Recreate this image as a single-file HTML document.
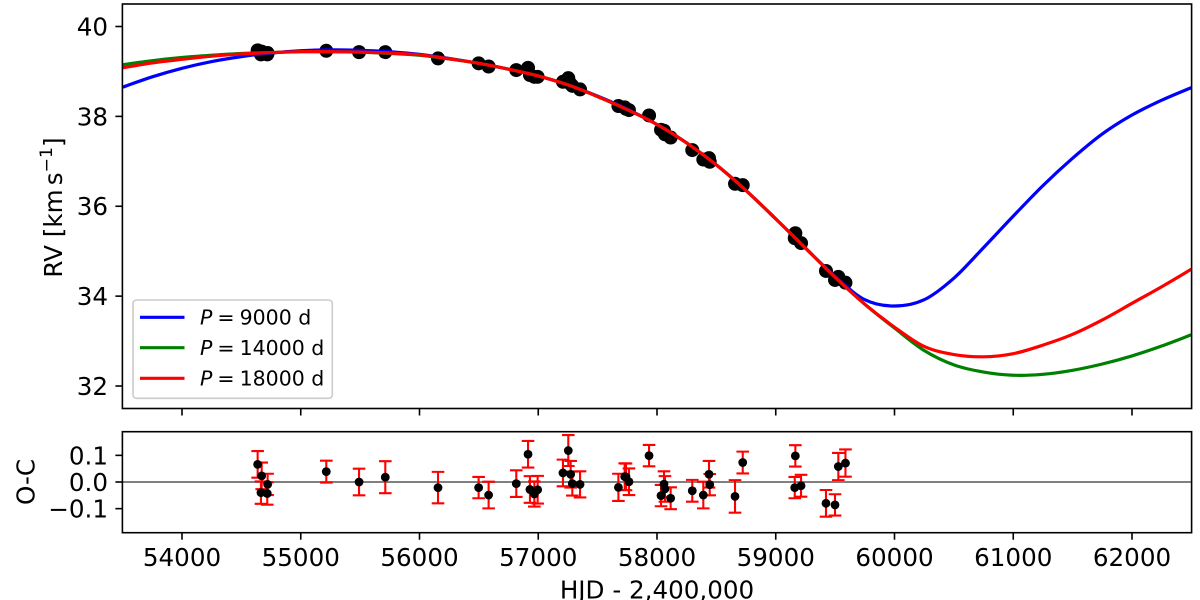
<!DOCTYPE html>
<html>
<head>
<meta charset="utf-8">
<title>RV curve with residuals</title>
<style>
html,body{margin:0;padding:0;background:#fff;}
svg{display:block;}
text{font-family:"DejaVu Sans",sans-serif;fill:#000;}
</style>
</head>
<body>
<svg id="chart" width="1200" height="600" viewBox="0 0 1200 600" xmlns="http://www.w3.org/2000/svg">
  <defs>
    <clipPath id="top-clip"><rect x="122.4" y="4" width="1069.2" height="404.5"/></clipPath>
    <clipPath id="bot-clip"><rect x="122.4" y="431.7" width="1069.2" height="101"/></clipPath>
  </defs>
  <rect x="0" y="0" width="1200" height="600" fill="#fff"/>
  <g id="top-data" clip-path="url(#top-clip)"></g>
  <g id="bot-data" clip-path="url(#bot-clip)"></g>
  <rect x="122.4" y="4" width="1069.2" height="404.5" fill="none" stroke="#000" stroke-width="1.6"/>
  <rect x="122.4" y="431.7" width="1069.2" height="101" fill="none" stroke="#000" stroke-width="1.6"/>
  <g id="axes"></g>
  <text transform="translate(62,207.5) rotate(-90)" text-anchor="middle" font-size="24.6">RV [km<tspan dx="-3.6"> s</tspan><tspan font-size="17.2" dy="-10">−1</tspan><tspan dy="10">]</tspan></text>
  <text transform="translate(34.5,482) rotate(-90)" text-anchor="middle" font-size="24.6">O-C</text>
  <text x="657" y="598.3" text-anchor="middle" font-size="24.6">HJD - 2,400,000</text>
  <g>
    <rect x="133" y="300" width="199.3" height="98.3" rx="3.5" fill="#fff" fill-opacity="0.8" stroke="#ccc" stroke-width="1.6"/>
    <line x1="140" x2="184.5" y1="317.3" y2="317.3" stroke="#0000ff" stroke-width="3.2"/>
    <line x1="140" x2="184.5" y1="347.7" y2="347.7" stroke="#008000" stroke-width="3.2"/>
    <line x1="140" x2="184.5" y1="378.3" y2="378.3" stroke="#ff0000" stroke-width="3.2"/>
    <text x="200" y="324.5" font-size="20.5"><tspan font-style="italic">P</tspan><tspan dx="5">=</tspan><tspan dx="5">9000 d</tspan></text>
    <text x="200" y="355" font-size="20.5"><tspan font-style="italic">P</tspan><tspan dx="5">=</tspan><tspan dx="5">14000 d</tspan></text>
    <text x="200" y="385.5" font-size="20.5"><tspan font-style="italic">P</tspan><tspan dx="5">=</tspan><tspan dx="5">18000 d</tspan></text>
  </g>
</svg>
<script>
// Model curve epochs (HJD - 2,400,000)
const modelEpochs = [53500,53750,54000,54250,54500,54750,55000,55250,55500,55750,56000,56250,56500,56750,57000,57250,57500,57750,58000,58250,58500,58750,59000,59250,59500,59750,60000,60250,60500,60750,61000,61250,61500,61750,62000,62250,62500];
const rvP9000 = [38.65,38.88,39.07,39.22,39.33,39.41,39.46,39.48,39.47,39.44,39.38,39.29,39.18,39.05,38.90,38.70,38.45,38.16,37.82,37.41,36.92,36.35,35.72,35.07,34.44,33.92,33.78,33.92,34.40,35.08,35.78,36.46,37.07,37.61,38.03,38.36,38.64];
const rvP14000 = [39.15,39.24,39.31,39.36,39.40,39.42,39.44,39.44,39.43,39.40,39.36,39.28,39.18,39.05,38.90,38.70,38.44,38.15,37.82,37.41,36.92,36.35,35.72,35.07,34.42,33.82,33.29,32.79,32.47,32.31,32.24,32.26,32.35,32.49,32.67,32.89,33.14];
const rvP18000 = [39.08,39.19,39.27,39.34,39.39,39.42,39.44,39.44,39.43,39.41,39.37,39.28,39.18,39.05,38.90,38.70,38.44,38.15,37.82,37.41,36.92,36.35,35.72,35.07,34.42,33.82,33.31,32.88,32.70,32.65,32.72,32.91,33.15,33.47,33.84,34.21,34.60];

// Observations
const obsEpochs = [54637,54671,54721,54665,54718,55215,55491,55712,56156,56498,56582,56815,56914,56930,56967,56995,57253,57208,57273,57287,57352,57675,57728,57739,57764,57933,58059,58034,58067,58115,58297,58390,58438,58444,58657,58722,59165,59160,59213,59423,59499,59527,59587];
const obsRv = [39.47,39.44,39.41,39.38,39.38,39.46,39.43,39.43,39.29,39.18,39.11,39.03,39.08,38.92,38.88,38.88,38.85,38.77,38.72,38.68,38.60,38.23,38.20,38.17,38.14,38.02,37.68,37.70,37.60,37.53,37.25,37.04,37.07,36.99,36.50,36.47,35.40,35.29,35.18,34.56,34.36,34.43,34.30];
const obsResidual = [0.066,0.023,-0.009,-0.040,-0.043,0.039,0,0.018,-0.021,-0.021,-0.049,-0.006,0.104,-0.028,-0.045,-0.029,0.118,0.034,0.029,-0.006,-0.009,-0.020,0.020,0.019,0.001,0.099,-0.008,-0.051,-0.026,-0.061,-0.033,-0.049,0.029,-0.010,-0.054,0.073,0.098,-0.021,-0.014,-0.080,-0.086,0.058,0.071];
const obsError = [0.050,0.050,0.040,0.042,0.042,0.041,0.050,0.060,0.059,0.040,0.050,0.050,0.050,0.050,0.047,0.052,0.058,0.050,0.050,0.045,0.049,0.051,0.050,0.050,0.050,0.040,0.048,0.040,0.048,0.041,0.041,0.050,0.050,0.040,0.061,0.041,0.040,0.040,0.041,0.050,0.040,0.051,0.051];

// Tick labels
const xTicks = [54000,55000,56000,57000,58000,59000,60000,61000,62000];
const rvTicks = [32,34,36,38,40];
const residualTicks = [-0.1,0,0.1];
const residualTickLabels = ['−0.1','0.0','0.1'];

const SVGNS = 'http://www.w3.org/2000/svg';
const xScale = t => 182 + (t - 54000) * 0.11875;
const rvScale = v => 26.5 + (40 - v) * 44.94;
const resScale = r => 482 - r * 266.5;

function mk(tag, attrs, parent) {
  const node = document.createElementNS(SVGNS, tag);
  for (const k in attrs) node.setAttribute(k, attrs[k]);
  parent.appendChild(node);
  return node;
}

function smoothPath(xs, ys) {
  const px = xs.map(xScale), py = ys.map(rvScale);
  let d = 'M' + px[0] + ' ' + py[0];
  for (let i = 0; i < px.length - 1; i++) {
    const a = Math.max(i - 1, 0), b = Math.min(i + 2, px.length - 1);
    const c1x = px[i] + (px[i + 1] - px[a]) / 6, c1y = py[i] + (py[i + 1] - py[a]) / 6;
    const c2x = px[i + 1] - (px[b] - px[i]) / 6, c2y = py[i + 1] - (py[b] - py[i]) / 6;
    d += 'C' + c1x + ' ' + c1y + ' ' + c2x + ' ' + c2y + ' ' + px[i + 1] + ' ' + py[i + 1];
  }
  return d;
}

const topData = document.getElementById('top-data');
const botData = document.getElementById('bot-data');
const axes = document.getElementById('axes');

// RV observations
obsEpochs.forEach((t, i) => {
  const dot = mk('circle', {cx: xScale(t), cy: rvScale(obsRv[i]), r: 7, fill: '#000'}, topData);
  
  
});

// Model curves
const curveBlue = mk('path', {d: smoothPath(modelEpochs, rvP9000), fill: 'none', stroke: '#0000ff', 'stroke-width': 3.2}, topData);


const curveGreen = mk('path', {d: smoothPath(modelEpochs, rvP14000), fill: 'none', stroke: '#008000', 'stroke-width': 3.2}, topData);


const curveRed = mk('path', {d: smoothPath(modelEpochs, rvP18000), fill: 'none', stroke: '#ff0000', 'stroke-width': 3.2}, topData);



// Zero line
const zeroLine = mk('line', {x1: 122.4, x2: 1191.6, y1: resScale(0), y2: resScale(0), stroke: '#808080', 'stroke-width': 2}, botData);



// Residual error bars and points
obsEpochs.forEach((t, i) => {
  const x = xScale(t), y1 = resScale(obsResidual[i] - obsError[i]), y2 = resScale(obsResidual[i] + obsError[i]);
  const bar = mk('path', {d: 'M' + x + ' ' + y1 + 'V' + y2 + 'M' + (x - 6.3) + ' ' + y1 + 'H' + (x + 6.3) + 'M' + (x - 6.3) + ' ' + y2 + 'H' + (x + 6.3), fill: 'none', stroke: '#ff0000', 'stroke-width': 2.1}, botData);
  
  
});
obsEpochs.forEach((t, i) => {
  const dot = mk('circle', {cx: xScale(t), cy: resScale(obsResidual[i]), r: 4.4, fill: '#000'}, botData);
  
  
});

// X ticks on both panels, labels on the lower panel
xTicks.forEach(t => {
  const x = xScale(t);
  const tickTop = mk('line', {x1: x, x2: x, y1: 408.5, y2: 415.5, stroke: '#000', 'stroke-width': 1.6}, axes);
  
  
  const tickBot = mk('line', {x1: x, x2: x, y1: 532.7, y2: 539.7, stroke: '#000', 'stroke-width': 1.6}, axes);
  
  
  const label = mk('text', {x: x, y: 566, 'text-anchor': 'middle', 'font-size': 24.6}, axes);
  label.textContent = String(t);
  
  
});

// RV y ticks
rvTicks.forEach(v => {
  const y = rvScale(v);
  const tick = mk('line', {x1: 115.4, x2: 122.4, y1: y, y2: y, stroke: '#000', 'stroke-width': 1.6}, axes);
  
  
  const label = mk('text', {x: 108, y: y + 8.9, 'text-anchor': 'end', 'font-size': 24.6}, axes);
  label.textContent = String(v);
  
  
});

// Residual y ticks
residualTicks.forEach((r, i) => {
  const y = resScale(r);
  const tick = mk('line', {x1: 115.4, x2: 122.4, y1: y, y2: y, stroke: '#000', 'stroke-width': 1.6}, axes);
  
  
  const label = mk('text', {x: 108, y: y + 8.9, 'text-anchor': 'end', 'font-size': 24.6}, axes);
  label.textContent = residualTickLabels[i];
  
  
});
</script>
</body>
</html>
